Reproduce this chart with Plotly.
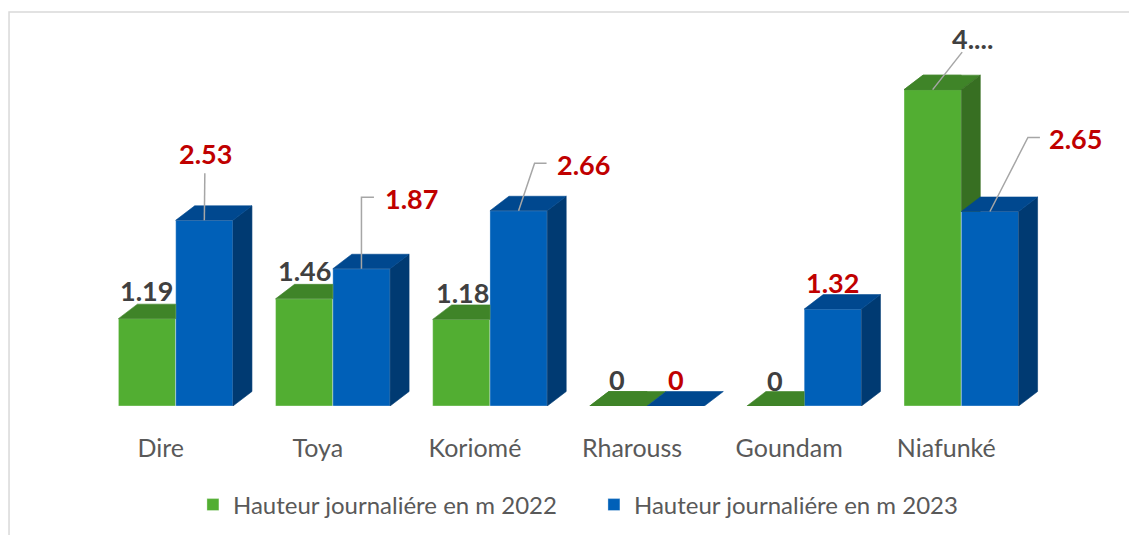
import plotly.graph_objects as go

# ---------------- data ----------------
categories = ["Dire", "Toya", "Koriomé", "Rharouss", "Goundam", "Niafunké"]
values_2022 = [1.19, 1.46, 1.18, 0, 0, 4.31]
values_2023 = [2.53, 1.87, 2.66, 0, 1.32, 2.65]
labels_2022 = ["1.19", "1.46", "1.18", "0", "0", "4...."]
labels_2023 = ["2.53", "1.87", "2.66", "0", "1.32", "2.65"]
series_names = ["Hauteur journaliére en m 2022", "Hauteur journaliére en m 2023"]

# ---------------- style / geometry ----------------
FIG_W, FIG_H = 1137, 535
OFF = 8                      # default page body margin
PLOT_LEFT, PLOT_TOP = 50, 39          # target viewport px
PLOT_W, PLOT_H = 1037.5, 367
M_L = PLOT_LEFT - OFF
M_T = PLOT_TOP - OFF
M_R = FIG_W - M_L - PLOT_W
M_B = FIG_H - M_T - PLOT_H
X_RANGE = [-0.8, 5.8]
Y_RANGE = [0, 5]
UX = PLOT_W / (X_RANGE[1] - X_RANGE[0])   # px per x unit
UY = PLOT_H / (Y_RANGE[1] - Y_RANGE[0])   # px per y unit
BAR_W = 57.3 / UX
DX = 19 / UX
DY = 14.5 / UY
BASE_Y = PLOT_TOP + PLOT_H                # viewport y of baseline


def paper_x(vx):
    return (vx - PLOT_LEFT) / PLOT_W


def paper_y(vy):
    return (BASE_Y - vy) / PLOT_H


GREEN = dict(front="#52AE32", top="#3F8428", side="#376F22")
BLUE = dict(front="#0060B8", top="#00488F", side="#003A72")
LABEL_GRAY = "#404040"
LABEL_RED = "#C00000"
TEXT_GRAY = "#595959"
LEADER = "#A6A6A6"
FONT = "Lato"

# pixel offsets (label position relative to front-top centre of bar)
lab22_off = [(-1, 28), (0, 28), (1, 27), (-1, 27), (-1, 26), (39.5, 51.5)]
lab22_anchor = ["center"] * 6
lead22 = [None, None, None, None, None, [(0, 0), (29.5, 37.5)]]
lab23_off = [(1.5, 67), (21.5, 70), (36.5, 46.5), (0, 27), (0, 26.5), (57.5, 72.5)]
lab23_anchor = ["center", "left", "left", "center", "center", "left"]
lead23 = [[(0, 0), (0.5, 47)], [(0, 0), (0, 71.5), (12.5, 71.5)],
          [(0, 0), (16, 47.5), (28, 47.5)], None, None,
          [(0, 0), (38, 74), (50, 74)]]

pos = list(range(len(categories)))


def clip(poly, axis, val, keep_ge):
    def inside(p):
        return p[axis] >= val - 1e-12 if keep_ge else p[axis] <= val + 1e-12
    out = []
    n = len(poly)
    for i in range(n):
        cur, prev = poly[i], poly[i - 1]
        ci, pi = inside(cur), inside(prev)
        if ci != pi:
            t = (val - prev[axis]) / (cur[axis] - prev[axis])
            out.append((prev[0] + t * (cur[0] - prev[0]), prev[1] + t * (cur[1] - prev[1])))
        if ci:
            out.append(cur)
    return out


def poly_trace(poly, color):
    xs = [p[0] for p in poly] + [poly[0][0]]
    ys = [p[1] for p in poly] + [poly[0][1]]
    return go.Scatter(x=xs, y=ys, mode="lines", fill="toself", fillcolor=color,
                      line=dict(color=color, width=0.6), hoverinfo="skip",
                      showlegend=False)


fig = go.Figure()

# front faces (bars)
fig.add_trace(go.Bar(x=pos, y=values_2022, width=BAR_W, offset=-BAR_W,
                     name=series_names[0], marker=dict(color=GREEN["front"],
                     line=dict(color="rgba(255,255,255,0.35)", width=1)),
                     hoverinfo="skip"))
fig.add_trace(go.Bar(x=pos, y=values_2023, width=BAR_W, offset=0,
                     name=series_names[1], marker=dict(color=BLUE["front"],
                     line=dict(color="rgba(255,255,255,0.35)", width=1)),
                     hoverinfo="skip"))

# 2022 top / side faces, clipped where hidden behind 2023 front face
for i, xc in enumerate(pos):
    g, b = values_2022[i], values_2023[i]
    x0 = xc - BAR_W
    top = [(x0, g), (xc, g), (xc + DX, g + DY), (x0 + DX, g + DY)]
    for piece in (clip(top, 0, xc, False), clip(top, 1, b, True)):
        if len(piece) >= 3:
            fig.add_trace(poly_trace(piece, GREEN["top"]))
    if g > b:
        side = [(xc, 0), (xc + DX, DY), (xc + DX, g + DY), (xc, g)]
        side = clip(side, 1, b, True)
        if len(side) >= 3:
            fig.add_trace(poly_trace(side, GREEN["side"]))

# 2023 side / top faces
for i, xc in enumerate(pos):
    b = values_2023[i]
    x1 = xc + BAR_W
    if b > 0:
        side = [(x1, 0), (x1 + DX, DY), (x1 + DX, b + DY), (x1, b)]
        fig.add_trace(poly_trace(side, BLUE["side"]))
    top = [(xc, b), (x1, b), (x1 + DX, b + DY), (xc + DX, b + DY)]
    fig.add_trace(poly_trace(top, BLUE["top"]))


# leader lines
def add_leader(ax, ay, pts):
    fig.add_trace(go.Scatter(x=[ax + p[0] / UX for p in pts],
                             y=[ay + p[1] / UY for p in pts],
                             mode="lines", line=dict(color=LEADER, width=1.5),
                             hoverinfo="skip", showlegend=False))


annotations = []
for i, xc in enumerate(pos):
    ax = xc - BAR_W / 2
    ay = values_2022[i]
    if lead22[i]:
        add_leader(ax, ay, lead22[i])
    annotations.append(dict(x=ax, y=ay, text=labels_2022[i], showarrow=False,
                            xshift=lab22_off[i][0], yshift=lab22_off[i][1],
                            xanchor=lab22_anchor[i], yanchor="middle",
                            font=dict(family=FONT, size=27, color=LABEL_GRAY,
                                      weight="bold")))
    bx = xc + BAR_W / 2
    by = values_2023[i]
    if lead23[i]:
        add_leader(bx, by, lead23[i])
    annotations.append(dict(x=bx, y=by, text=labels_2023[i], showarrow=False,
                            xshift=lab23_off[i][0], yshift=lab23_off[i][1],
                            xanchor=lab23_anchor[i], yanchor="middle",
                            font=dict(family=FONT, size=27, color=LABEL_RED,
                                      weight="bold")))

fig.update_layout(
    width=FIG_W, height=FIG_H,
    margin=dict(l=M_L, r=M_R, t=M_T, b=M_B),
    paper_bgcolor="white", plot_bgcolor="white",
    barmode="overlay",
    annotations=annotations,
    showlegend=True,
    legend=dict(orientation="h", x=paper_x(193), xanchor="left",
                y=paper_y(505), yanchor="middle", entrywidth=356,
                font=dict(family=FONT, size=24, color=TEXT_GRAY),
                bgcolor="rgba(0,0,0,0)"),
    xaxis=dict(range=X_RANGE, tickmode="array", tickvals=pos, ticktext=categories,
               showgrid=False, zeroline=False, showline=False, ticks="",
               ticklabelshift=-15, ticklabelstandoff=25,
               tickfont=dict(family=FONT, size=25, color=TEXT_GRAY), fixedrange=True),
    yaxis=dict(range=Y_RANGE, showgrid=False, zeroline=False, showline=False,
               showticklabels=False, ticks="", fixedrange=True),
    shapes=[dict(type="rect", xref="paper", yref="paper",
                 x0=paper_x(9), x1=paper_x(FIG_W + 20),
                 y0=paper_y(FIG_H + 20), y1=paper_y(12),
                 line=dict(color="#D9D9D9", width=1.5), layer="below")],
)

fig.write_html("out.html")
